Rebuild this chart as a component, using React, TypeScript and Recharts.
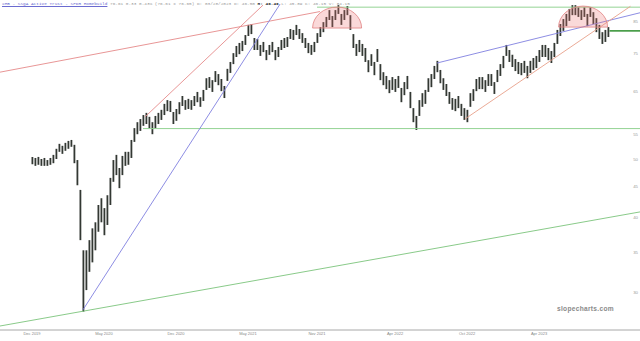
import { ComposedChart, Bar, XAxis, YAxis, ReferenceLine, ReferenceDot } from "recharts";

// weekly high / low
const highs = [
  50.5, 50.3, 50.5, 50.1, 50.3, 49.9, 50.3, 50.9, 52.1, 53.1, 52.7, 53.3, 53.7, 53.9, 52.9, 49.9, 44.5, 35.3, 35.3, 36.7,
  38.4, 39.3, 42.0, 43.1, 41.5, 43.6, 46.6, 49.9, 50.9, 48.4, 50.7, 51.5, 51.5, 53.9, 56.4, 57.7, 58.4, 59.3, 59.8, 58.9,
  57.7, 59.1, 59.8, 60.5, 61.9, 62.8, 62.6, 60.0, 60.7, 62.3, 63.8, 62.8, 63.1, 62.8, 63.8, 64.8, 63.5, 65.3, 68.3, 68.6,
  67.8, 70.2, 69.4, 68.1, 66.3, 70.8, 72.7, 75.2, 77.3, 78.2, 78.8, 80.6, 83.8, 84.1, 79.7, 79.4, 77.6, 78.5, 76.1, 77.6,
  78.5, 76.1, 77.0, 79.1, 79.7, 80.0, 82.5, 82.2, 83.8, 82.5, 81.2, 79.7, 78.2, 77.6, 78.5, 81.2, 83.1, 84.7, 86.4, 88.7,
  86.7, 88.7, 90.4, 87.4, 88.7, 90.1, 87.0, 80.9, 77.9, 79.1, 77.9, 76.7, 73.2, 74.9, 72.7, 76.4, 72.1, 69.9, 68.9, 67.8,
  68.6, 68.1, 68.9, 65.8, 67.3, 68.9, 64.8, 60.9, 59.1, 62.8, 64.5, 65.3, 68.3, 69.4, 71.6, 73.0, 70.5, 68.3, 66.8, 64.8,
  63.3, 63.1, 63.8, 61.9, 60.9, 60.5, 64.5, 65.5, 68.1, 68.6, 68.6, 67.8, 69.4, 69.4, 67.3, 70.5, 72.1, 74.4, 77.6, 76.1,
  74.7, 73.5, 72.7, 72.4, 73.0, 71.6, 73.0, 73.8, 74.4, 76.1, 77.6, 77.6, 76.7, 75.8, 78.2, 82.2, 84.1, 85.7, 87.4, 89.1,
  90.4, 90.4, 89.7, 88.7, 89.7, 87.4, 89.7, 88.0, 86.0, 83.8, 81.5, 82.2, 83.1,
];
const lows = [
  49.1, 48.8, 49.0, 48.8, 48.8, 48.8, 49.0, 49.3, 50.1, 51.5, 51.1, 51.7, 52.1, 52.5, 49.3, 45.3, 36.7, 27.9, 30.3, 32.5,
  33.7, 35.3, 37.9, 39.3, 37.4, 38.9, 42.0, 45.9, 47.1, 44.8, 47.1, 48.8, 49.0, 50.3, 53.5, 55.1, 55.8, 56.9, 57.3, 56.4,
  55.1, 56.4, 57.3, 58.2, 59.3, 60.2, 60.0, 57.3, 58.0, 59.5, 61.4, 60.5, 60.7, 60.5, 61.4, 62.3, 61.2, 62.6, 65.3, 65.8,
  64.8, 67.3, 66.5, 65.0, 63.3, 67.6, 69.7, 72.1, 74.1, 74.9, 75.8, 77.6, 80.3, 80.9, 76.1, 76.1, 74.4, 75.5, 73.2, 74.7,
  75.5, 73.2, 74.1, 76.1, 76.7, 77.0, 79.4, 79.1, 80.6, 79.4, 78.2, 76.7, 75.2, 74.7, 75.5, 78.2, 80.0, 81.5, 83.1, 85.4,
  83.1, 85.4, 87.4, 83.8, 85.4, 87.0, 82.2, 76.7, 74.4, 75.5, 74.4, 72.7, 69.9, 71.6, 69.1, 72.7, 67.8, 66.5, 65.5, 64.5,
  65.3, 64.8, 65.8, 62.3, 64.0, 65.5, 60.9, 57.7, 56.0, 59.1, 61.2, 61.9, 64.8, 66.0, 68.1, 69.9, 67.0, 65.3, 63.8, 61.9,
  60.5, 60.2, 60.9, 59.1, 58.2, 57.7, 61.2, 62.6, 65.0, 65.5, 65.5, 64.8, 66.3, 66.3, 64.3, 67.3, 68.9, 71.0, 74.4, 72.7,
  71.3, 70.2, 69.4, 69.1, 69.7, 68.3, 69.7, 70.5, 71.0, 72.7, 74.1, 74.1, 73.2, 72.4, 74.1, 77.9, 80.3, 81.9, 83.4, 85.1,
  87.0, 87.0, 86.4, 85.4, 86.4, 83.4, 86.4, 84.1, 81.5, 79.4, 77.9, 78.5, 80.0,
];

const priceTicks = [30, 35, 40, 45, 50, 55, 60, 65, 70, 75, 80, 85];
const dateTickIdx = [0, 24, 48, 72, 95, 121, 145, 169];
const dateLabels = ["Dec 2019", "May 2020", "Dec 2020", "May 2021", "Nov 2021", "Apr 2022", "Oct 2022", "Apr 2023"];

// drawn trendlines, in (week index, price)
const trendLines = [
  { x1: -10.7, y1: 69.9, x2: 96, y2: 88.2, color: "#e58a8a" },
  { x1: 37.7, y1: 58.9, x2: 77, y2: 90.4, color: "#e58a8a" },
  { x1: 17, y1: 28.1, x2: 82.7, y2: 90.8, color: "#8080e0" },
  { x1: -10.7, y1: 26.4, x2: 202.7, y2: 40.9, color: "#7cc47c" },
  { x1: 135, y1: 72.4, x2: 202.7, y2: 87.8, color: "#8080e0" },
  { x1: 144.3, y1: 58.4, x2: 199.5, y2: 90.0, color: "#e8a08a" },
];
const levelLines = [
  { x1: 37, x2: 202.7, y: 56.3 },
  { x1: 95, x2: 202.7, y: 89.7 },
];
const domes = [
  { x: 101.7, y: 82.8 },
  { x: 183.7, y: 83.1 },
];
const lastPrice = 81.9;

const data = highs.map((h, i) => ({ i, range: [lows[i], h] }));

function Dome(props: any) {
  const { cx, cy } = props;
  const rx = 24.5;
  const ry = 21;
  return (
    <path
      d={`M${cx - rx},${cy} A${rx},${ry} 0 0 1 ${cx + rx},${cy} Z`}
      fill="rgba(236,120,120,0.28)"
      stroke="#e08080"
      strokeWidth={0.8}
    />
  );
}

function PriceTick(props: any) {
  const { y, payload } = props;
  return (
    <text x={638} y={y} textAnchor="end" dominantBaseline="central" fontSize={4.3} fill="#999">
      {payload.value}
    </text>
  );
}

export default function App() {
  return (
    <div style={{ position: "relative", width: 640, height: 341, background: "#fff", fontFamily: "Liberation Sans" }}>
      <style>{`body{margin:0}`}</style>
      <ComposedChart width={640} height={341} data={data} margin={{ top: 0, right: -12, bottom: 0, left: 0 }}>
        <XAxis
          type="number"
          dataKey="i"
          domain={[-10.67, 202.67]}
          allowDataOverflow
          ticks={dateTickIdx}
          tickFormatter={(v: number) => dateLabels[dateTickIdx.indexOf(v)] ?? ""}
          height={11}
          tickLine={false}
          axisLine={{ stroke: "#a8a8a8" }}
          tick={{ fontSize: 4, fill: "#888" }}
          tickSize={0}
          tickMargin={2}
        />
        <YAxis
          orientation="right"
          width={12}
          scale="log"
          domain={[26, 92.2]}
          allowDataOverflow
          ticks={priceTicks}
          tickLine={false}
          axisLine={false}
          tick={<PriceTick />}
        />
        {domes.map((d, k) => (
          <ReferenceDot key={"d" + k} x={d.x} y={d.y} shape={Dome} ifOverflow="visible" />
        ))}
        {levelLines.map((l, k) => (
          <ReferenceLine
            key={"l" + k}
            segment={[{ x: l.x1, y: l.y }, { x: l.x2, y: l.y }]}
            stroke="#93d393"
            strokeWidth={1}
            ifOverflow="hidden"
          />
        ))}
        {trendLines.map((t, k) => (
          <ReferenceLine
            key={"t" + k}
            segment={[{ x: t.x1, y: t.y1 }, { x: t.x2, y: t.y2 }]}
            stroke={t.color}
            strokeWidth={0.9}
            ifOverflow="hidden"
          />
        ))}
        <ReferenceLine
          segment={[{ x: 192.5, y: lastPrice }, { x: 202.7, y: lastPrice }]}
          stroke="#2f8f2f"
          strokeWidth={1.5}
          ifOverflow="hidden"
        />
        <Bar dataKey="range" fill="#333833" barSize={1.8} isAnimationActive={false} />
      </ComposedChart>
      <div
        style={{
          position: "absolute",
          left: 2,
          top: 1,
          fontFamily: "Liberation Mono",
          fontSize: 4.4,
          whiteSpace: "pre",
          color: "#9a9a9a",
        }}
      >
        <span style={{ color: "#6b6bd0", textDecoration: "underline" }}>XHB - SSgA Active Trust - SPDR Homebuild</span>
        {" 76.61 0.33 0.43% (76.61 x 76.65) D: 03/28/2023 O: 46.50 "}
        <span style={{ color: "#222", fontWeight: "bold" }}>H: 46.49</span>
        {" L: 45.89 C: 46.15 V: 84.15"}
      </div>
      <div
        style={{
          position: "absolute",
          left: 557,
          top: 305,
          fontSize: 6.6,
          fontWeight: "bold",
          letterSpacing: 0.3,
          color: "#8a8a8a",
        }}
      >
        slopecharts.com
      </div>
    </div>
  );
}
